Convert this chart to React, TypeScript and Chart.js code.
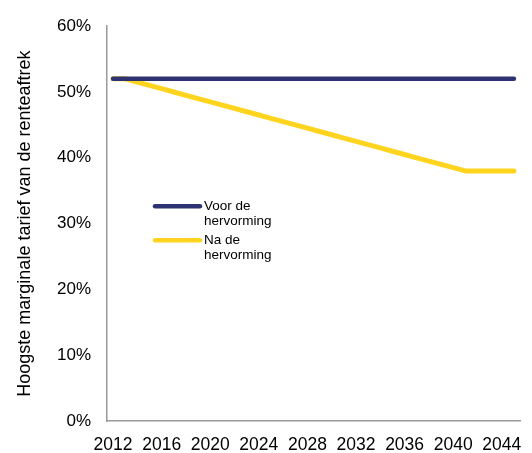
import React, { useEffect, useRef } from "react";
import { Chart, registerables } from "chart.js";

Chart.register(...registerables);

const years: string[] = [
  "2012", "2013", "2014", "2015", "2016", "2017", "2018", "2019", "2020", "2021",
  "2022", "2023", "2024", "2025", "2026", "2027", "2028", "2029", "2030", "2031",
  "2032", "2033", "2034", "2035", "2036", "2037", "2038", "2039", "2040", "2041",
  "2042", "2043", "2044", "2045",
];

const voorHervorming: number[] = [
  52, 52, 52, 52, 52, 52, 52, 52, 52, 52,
  52, 52, 52, 52, 52, 52, 52, 52, 52, 52,
  52, 52, 52, 52, 52, 52, 52, 52, 52, 52,
  52, 52, 52, 52,
];

const naHervorming: number[] = [
  52, 52, 51.5, 51, 50.5, 50, 49.5, 49, 48.5, 48,
  47.5, 47, 46.5, 46, 45.5, 45, 44.5, 44, 43.5, 43,
  42.5, 42, 41.5, 41, 40.5, 40, 39.5, 39, 38.5, 38,
  38, 38, 38, 38,
];

const seriesNames: string[][] = [
  ["Voor de", "hervorming"],
  ["Na de", "hervorming"],
];

const yTitle = "Hoogste marginale tarief van de renteaftrek";

const BLUE = "#2c3272";
const YELLOW = "#ffd41f";
const FONT = "'Liberation Sans', Arial, sans-serif";

const legendPlugin = {
  id: "customLegend",
  afterDraw(chart: any) {
    const ctx = chart.ctx;
    const area = chart.chartArea;
    const x0 = area.left + 48;
    const items = [
      { color: BLUE, width: 4.5, y: area.top + 180, lines: seriesNames[0] },
      { color: YELLOW, width: 4.5, y: area.top + 214, lines: seriesNames[1] },
    ];
    ctx.save();
    items.forEach((it) => {
      ctx.beginPath();
      ctx.strokeStyle = it.color;
      ctx.lineWidth = it.width;
      ctx.lineCap = "round";
      ctx.moveTo(x0, it.y);
      ctx.lineTo(x0 + 45, it.y);
      ctx.stroke();
      ctx.fillStyle = "#000";
      ctx.font = `13.5px ${FONT}`;
      ctx.textBaseline = "middle";
      ctx.textAlign = "left";
      it.lines.forEach((t, i) => {
        ctx.fillText(t, x0 + 49, it.y + i * 15);
      });
    });
    ctx.restore();
  },
};

export default function App() {
  const ref = useRef<HTMLCanvasElement | null>(null);

  useEffect(() => {
    document.body.style.margin = "0";
    const canvas = ref.current;
    if (!canvas) return;
    const chart = new Chart(canvas, {
      type: "line",
      data: {
        labels: years,
        datasets: [
          {
            label: seriesNames[0].join(" "),
            data: voorHervorming,
            borderColor: BLUE,
            backgroundColor: BLUE,
            borderWidth: 4.5,
            pointRadius: 0,
            borderCapStyle: "round",
            tension: 0,
          },
          {
            label: seriesNames[1].join(" "),
            data: naHervorming,
            borderColor: YELLOW,
            backgroundColor: YELLOW,
            borderWidth: 5,
            pointRadius: 0,
            borderCapStyle: "round",
            borderJoinStyle: "round",
            tension: 0,
          },
        ],
      },
      options: {
        animation: false,
        responsive: false,
        maintainAspectRatio: false,
        layout: { padding: { top: 16, right: 12, bottom: 0, left: 0 } },
        plugins: {
          legend: { display: false },
          tooltip: { enabled: false },
        },
        scales: {
          x: {
            type: "category",
            offset: true,
            grid: { display: false, drawTicks: false },
            border: { display: true, color: "#9a9a9a", width: 1.5 },
            afterFit: (s: any) => {
              s.height = 32;
            },
            ticks: {
              autoSkip: false,
              maxRotation: 0,
              minRotation: 0,
              padding: 14,
              color: "#000",
              font: { family: FONT, size: 17.5 },
              callback: (_v: any, i: number) => (i % 4 === 0 ? years[i] : ""),
            },
          },
          y: {
            min: 0,
            max: 60,
            grid: { display: false, drawTicks: false },
            border: { display: true, color: "#9a9a9a", width: 1.5 },
            afterFit: (s: any) => {
              s.width = 107;
            },
            ticks: {
              stepSize: 10,
              padding: 16,
              color: "#000",
              font: { family: FONT, size: 17 },
              callback: (v: any) => `${v}%`,
            },
            title: {
              display: true,
              text: yTitle,
              color: "#000",
              font: { family: FONT, size: 18 },
              padding: { top: 14, bottom: 0 },
            },
          },
        },
      },
      plugins: [legendPlugin],
    });
    return () => chart.destroy();
  }, []);

  return (
    <div style={{ width: 532, height: 453 }}>
      <canvas ref={ref} width={532} height={453} style={{ display: "block" }} />
    </div>
  );
}
